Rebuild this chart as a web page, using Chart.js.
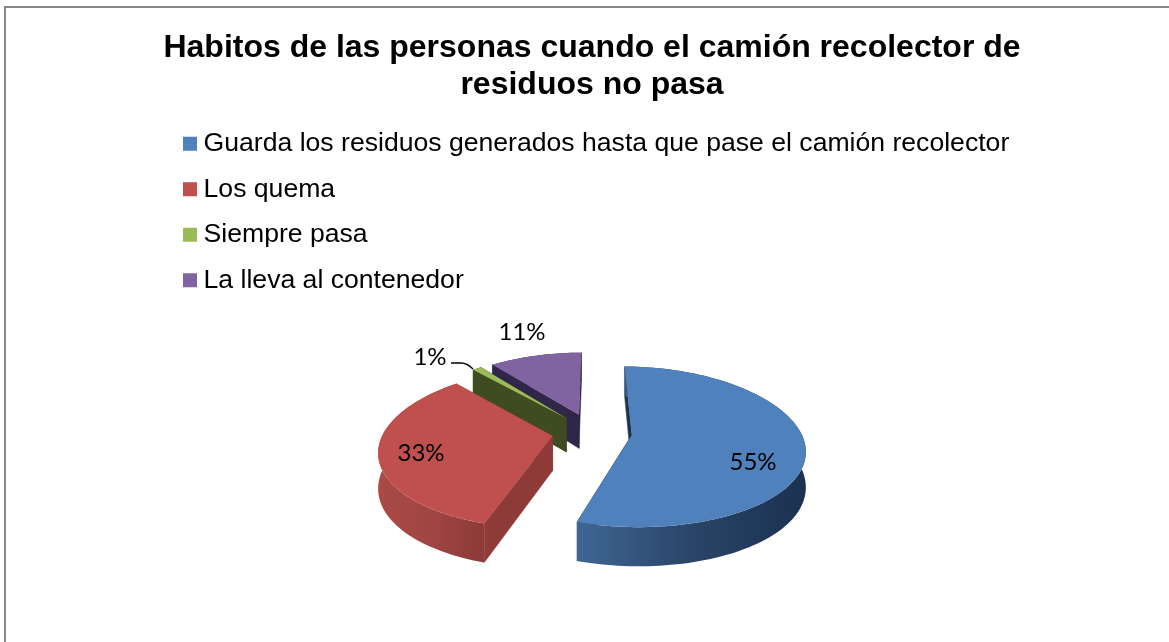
<!DOCTYPE html>
<html>
<head>
<meta charset="utf-8">
<title>Habitos</title>
<script src="https://cdn.jsdelivr.net/npm/chart.js@4"></script>
<style>
    html, body { margin: 0; padding: 0; background: #fff; overflow: hidden; }
    canvas { display: block; }
</style>
</head>
<body>
<canvas id="grafico" width="1169" height="642"></canvas>
<script>
const titulo = ["Habitos de las personas cuando el camión recolector de", "residuos no pasa"];
const categorias = [
    "Guarda los residuos generados hasta que pase el camión recolector",
    "Los quema",
    "Siempre pasa",
    "La lleva al contenedor"
];
const valores = [55, 33, 1, 11];
const coloresTapa = ["#4f81bd", "#c0504d", "#9bbb59", "#8064a2"];
const coloresCorte = ["#1c3350", "#8e3a38", "#3f4b20", "#30264a"];
const coloresPared = [
    ["#3f6694", "#2a4568", "#1b3150"],
    ["#ab4a47", "#a04543", "#8c3a38"],
    ["#3f4b20", "#3f4b20", "#3f4b20"],
    ["#30264a", "#30264a", "#30264a"]
];

// ------------------ perspectiva de la torta ------------------
const ALTO_K = 0.47, PERSP_Y = 0.15, PERSP_X = 0.18, GROSOR = 34.5, PERSP_G = 0.13;

function proyectar(el, X, Y) {
    const R = el.outerRadius;
    return {
        x: el.x + X * (1 + PERSP_X * Y / R),
        y: el.y + ALTO_K * Y * (1 + PERSP_Y * Y / R),
        g: GROSOR * (1 + PERSP_G * Y / R)
    };
}

function puntosArco(el) {
    const medio = (el.startAngle + el.endAngle) / 2;
    const ox = Math.cos(medio) * el.options.offset;
    const oy = Math.sin(medio) * el.options.offset;
    const pts = [];
    const pasos = Math.max(2, Math.ceil((el.endAngle - el.startAngle) / 0.03));
    for (let i = 0; i <= pasos; i++) {
        const a = el.startAngle + (el.endAngle - el.startAngle) * i / pasos;
        pts.push(proyectar(el, ox + el.outerRadius * Math.cos(a), oy + el.outerRadius * Math.sin(a)));
    }
    return { centro: proyectar(el, ox, oy), pts };
}

function quad(ctx, a, b, color) {
    ctx.fillStyle = color;
    ctx.strokeStyle = color;
    ctx.lineWidth = 0.5;
    ctx.beginPath();
    ctx.moveTo(a.x, a.y);
    ctx.lineTo(b.x, b.y);
    ctx.lineTo(b.x, b.y + b.g);
    ctx.lineTo(a.x, a.y + a.g);
    ctx.closePath();
    ctx.fill();
    ctx.stroke();
}

const torta3d = {
    id: "torta3d",
    beforeDraw(chart) {
        // marco de la pagina, solo arriba y a la izquierda
        const { ctx, width, height } = chart;
        ctx.save();
        ctx.fillStyle = "#fff";
        ctx.fillRect(0, 0, width, height);
        ctx.fillStyle = "#868686";
        ctx.fillRect(4, 6, width - 4, 2);
        ctx.fillRect(4, 6, 2, height - 6);
        ctx.restore();
    },
    afterLayout(chart) {
        chart.legend.left = 170.85;
        chart.legend.top = 111.5;
    },
    beforeDatasetsDraw(chart) {
        const { ctx } = chart;
        const arcos = chart.getDatasetMeta(0).data;
        ctx.save();
        // de atras hacia adelante
        [3, 2, 1, 0].forEach(i => {
            const { centro, pts } = puntosArco(arcos[i]);
            quad(ctx, centro, pts[0], coloresCorte[i]);
            quad(ctx, centro, pts[pts.length - 1], coloresCorte[i]);

            const xs = pts.map(p => p.x);
            const grad = ctx.createLinearGradient(Math.min(...xs), 0, Math.max(...xs), 0);
            coloresPared[i].forEach((c, j) => grad.addColorStop(j / 2, c));
            ctx.fillStyle = grad;
            ctx.beginPath();
            pts.forEach((p, j) => j ? ctx.lineTo(p.x, p.y) : ctx.moveTo(p.x, p.y));
            pts.slice().reverse().forEach(p => ctx.lineTo(p.x, p.y + p.g));
            ctx.closePath();
            ctx.fill();

            ctx.fillStyle = coloresTapa[i];
            ctx.beginPath();
            ctx.moveTo(centro.x, centro.y);
            pts.forEach(p => ctx.lineTo(p.x, p.y));
            ctx.closePath();
            ctx.fill();
        });
        ctx.restore();
        return false;
    },
    afterDraw(chart) {
        // beforeDatasetsDraw cancela el dibujo normal, por eso las etiquetas van aca
        const { ctx } = chart;
        const lugares = [[753, 462], [421, 453], [430, 357], [522, 332]];
        ctx.save();
        ctx.fillStyle = "#000";
        ctx.font = "24px Lato";
        ctx.textAlign = "center";
        ctx.textBaseline = "middle";
        valores.forEach((v, i) => ctx.fillText(v + "%", lugares[i][0], lugares[i][1]));
        // guia del 1%
        ctx.strokeStyle = "#000";
        ctx.lineWidth = 1.4;
        ctx.beginPath();
        ctx.moveTo(451, 363);
        ctx.lineTo(461, 363);
        ctx.quadraticCurveTo(467, 363, 473, 369);
        ctx.stroke();
        ctx.restore();
    }
};

new Chart(document.getElementById("grafico"), {
    type: "pie",
    data: {
        labels: categorias,
        datasets: [{
            data: valores,
            backgroundColor: coloresTapa,
            offset: 40,
            borderWidth: 0
        }]
    },
    plugins: [torta3d],
    options: {
        responsive: false,
        animation: false,
        radius: 169,
        layout: { padding: { left: 15, right: 0, top: 0, bottom: 0 } },
        plugins: {
            tooltip: { enabled: false },
            title: {
                display: true,
                text: titulo,
                color: "#000",
                font: { family: "Liberation Sans", size: 32, weight: "bold", lineHeight: 1.155 },
                padding: { top: 30, bottom: 118 }
            },
            legend: {
                position: "chartArea",
                align: "start",
                labels: {
                    color: "#000",
                    font: { family: "Liberation Sans", size: 26.6 },
                    boxWidth: 0.5,
                    boxHeight: 0.5,
                    padding: 18.9,
                    generateLabels: function () {
                        return categorias.map((c, i) => ({
                            text: c,
                            fillStyle: coloresTapa[i],
                            strokeStyle: coloresTapa[i],
                            lineWidth: 13.5,
                            hidden: false,
                            index: i
                        }));
                    }
                }
            }
        }
    }
});
</script>
</body>
</html>
